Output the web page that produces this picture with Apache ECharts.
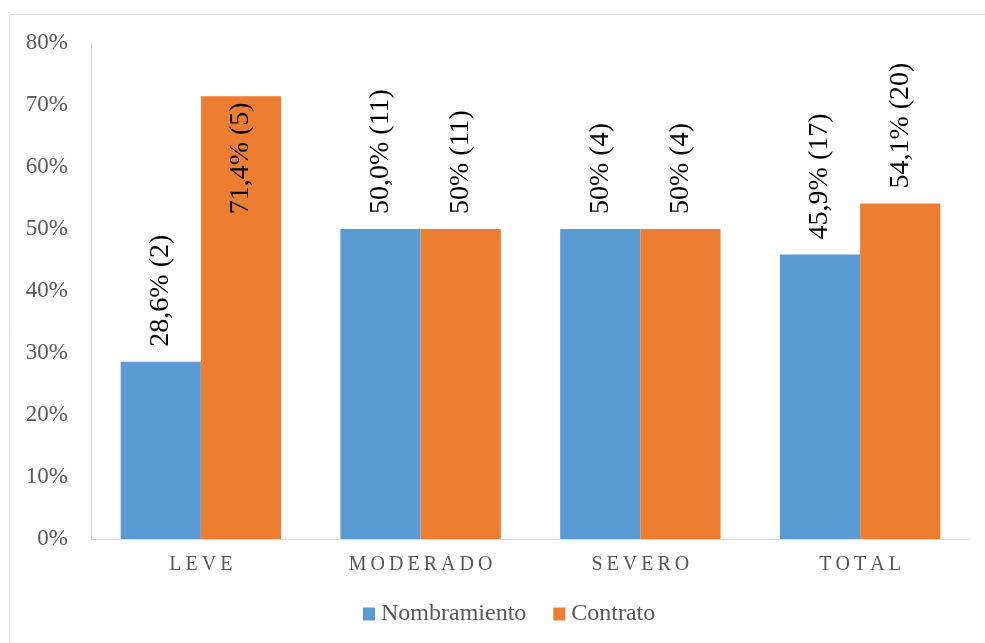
<!DOCTYPE html>
<html>
<head>
<meta charset="utf-8">
<style>
  html, body { margin: 0; padding: 0; background: #ffffff; }
  #chart { width: 985px; height: 643px; }
</style>
<script src="https://cdn.jsdelivr.net/npm/echarts@6/dist/echarts.min.js"></script>
</head>
<body>
<div id="chart"></div>
<script>
// Categories and series values (percent)
var categories = ['LEVE', 'MODERADO', 'SEVERO', 'TOTAL'];
var seriesNames = ['Nombramiento', 'Contrato'];
var nombramiento = [28.6, 50.0, 50.0, 45.9];
var contrato = [71.4, 50.0, 50.0, 54.1];
var nombramientoLabels = ['28,6% (2)', '50,0% (11)', '50% (4)', '45,9% (17)'];
var contratoLabels = ['71,4% (5)', '50% (11)', '50% (4)', '54,1% (20)'];
var yTicks = { min: 0, max: 80, step: 10 };

var FONT = 'Liberation Serif';
var colors = ['#5B9BD5', '#ED7D31'];

// spaced-out category names
function spaced(s) { return s.split('').join('\u2009'); }

// labels of tall bars go inside the bar top, others sit above the bar
function buildData(values) {
  return values.map(function (v) {
    var inside = v > 60;
    return {
      value: v,
      label: inside ? {
        position: 'insideTop', distance: 6, align: 'right'
      } : {
        position: 'top', distance: 15, align: 'left'
      }
    };
  });
}

function makeSeries(name, values, texts, color) {
  return {
    name: name,
    type: 'bar',
    barGap: '0%',
    barCategoryGap: '27%',
    itemStyle: { color: color },
    label: {
      show: true,
      rotate: 90,
      verticalAlign: 'middle',
      fontFamily: FONT,
      fontSize: 28,
      color: '#000000',
      formatter: function (p) { return texts[p.dataIndex]; }
    },
    data: buildData(values)
  };
}

var chart = echarts.init(document.getElementById('chart'), null, { renderer: 'canvas' });
chart.setOption({
  animation: false,
  backgroundColor: '#ffffff',
  textStyle: { fontFamily: FONT },
  graphic: [{
    type: 'rect',
    shape: { x: 9.5, y: 14.5, width: 1000, height: 700 },
    style: { fill: 'none', stroke: '#d9d9d9', lineWidth: 1 },
    silent: true
  }],
  grid: { left: 91, right: 15, top: 43, bottom: 104 },
  legend: {
    left: 363,
    top: 602,
    padding: 0,
    itemWidth: 12,
    itemHeight: 13,
    itemGap: 27,
    icon: 'rect',
    textStyle: { fontFamily: FONT, fontSize: 24, color: '#595959', padding: [0, 0, 0, 1] },
    data: seriesNames
  },
  xAxis: {
    type: 'category',
    data: categories,
    axisTick: { show: false },
    axisLine: { lineStyle: { color: '#d9d9d9', width: 1 } },
    axisLabel: {
      margin: 16,
      fontFamily: FONT,
      fontSize: 20,
      color: '#595959',
      formatter: function (v) { return spaced(v); }
    }
  },
  yAxis: {
    type: 'value',
    min: yTicks.min,
    max: yTicks.max,
    interval: yTicks.step,
    axisLine: { show: true, lineStyle: { color: '#d9d9d9', width: 1 } },
    axisTick: { show: false },
    splitLine: { show: false },
    axisLabel: {
      margin: 23,
      fontFamily: FONT,
      fontSize: 23,
      color: '#595959',
      formatter: '{value}%'
    }
  },
  series: [
    makeSeries(seriesNames[0], nombramiento, nombramientoLabels, colors[0]),
    makeSeries(seriesNames[1], contrato, contratoLabels, colors[1])
  ]
});
</script>
</body>
</html>
